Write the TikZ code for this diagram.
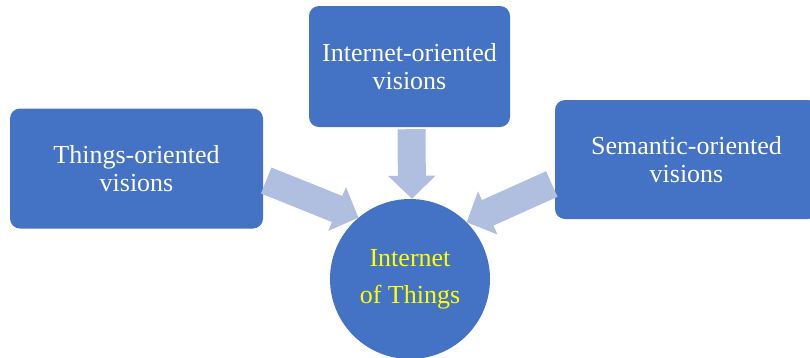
\documentclass[tikz,border=0pt]{standalone}
\usepackage{fontspec}
\setmainfont{Liberation Serif}
\usepackage{xcolor}
\usetikzlibrary{arrows.meta,positioning}

\definecolor{boxblue}{RGB}{68,114,196}
\definecolor{arrowblue}{RGB}{176,190,224}
\definecolor{iotyellow}{RGB}{255,255,0}

\begin{document}
\begin{tikzpicture}[
  x=1pt, y=-1pt,
  vision/.style={rectangle, rounded corners=10pt, fill=boxblue, align=center,
                 text=white, font=\fontsize{26}{28}\selectfont},
  iot/.style={circle, fill=boxblue, minimum size=160pt, inner sep=0pt,
              align=center, text=iotyellow, font=\fontsize{26}{37}\selectfont},
  flow/.style={arrowblue, line width=28pt,
               -{Triangle[length=23pt, width=46pt]}},
]
  \useasboundingbox (0,0) rectangle (810,357);
  \clip (0,0) rectangle (810,357);

  % Visions
  \node[vision, minimum width=253pt, minimum height=120pt] (things) at (136.5,168.5) {Things-oriented\\visions};
  \node[vision, minimum width=201pt, minimum height=121pt] (internet) at (409.5,66.5) {Internet-oriented\\visions};
  \node[vision, minimum width=263pt, minimum height=119pt] (semantic) at (686.5,159.5) {Semantic-oriented\\visions};

  % Centre
  \node[iot] (iot) at (410,279) {Internet\\of Things};

  % Arrows
  \draw[flow] ([xshift=3pt, yshift=-12pt]things.east) -- (iot.130);
  \draw[flow] ([xshift=2pt, yshift=-2pt]internet.south) -- ([xshift=2pt]iot.north);
  \draw[flow] ([xshift=-3pt, yshift=-24.5pt]semantic.west) -- (iot.45);

\end{tikzpicture}
\end{document}
